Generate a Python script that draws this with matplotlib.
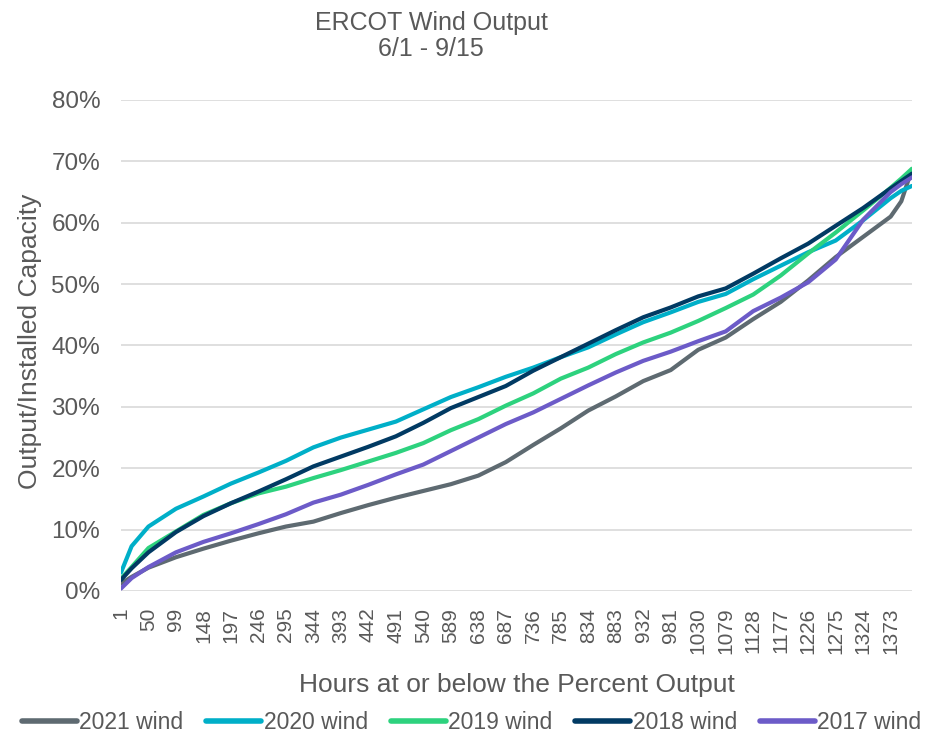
import matplotlib.pyplot as plt
from matplotlib.ticker import FuncFormatter

plt.rcParams['font.family'] = ['Liberation Sans', 'DejaVu Sans']

hours = [1, 20, 50, 99, 148, 197, 246, 295, 344, 393, 442, 491, 540, 589, 638,
         687, 736, 785, 834, 883, 932, 981, 1030, 1079, 1128, 1177, 1226, 1275,
         1324, 1373, 1392, 1411]

wind_2021 = [1.2, 2.3, 3.8, 5.5, 6.9, 8.2, 9.4, 10.5, 11.3, 12.7, 14.0, 15.2, 16.3,
             17.4, 18.8, 21.0, 23.8, 26.5, 29.4, 31.7, 34.2, 36.0, 39.3, 41.3, 44.3,
             47.1, 50.6, 54.4, 57.7, 61.0, 63.5, 68.7]
wind_2020 = [3.0, 7.3, 10.5, 13.4, 15.4, 17.5, 19.3, 21.2, 23.4, 25.0, 26.3, 27.6,
             29.6, 31.6, 33.2, 34.9, 36.4, 38.1, 39.7, 41.8, 43.8, 45.4, 47.1, 48.4,
             50.8, 53.0, 55.2, 57.1, 60.4, 64.0, 65.2, 66.0]
wind_2019 = [2.0, 3.9, 7.0, 9.7, 12.4, 14.3, 15.9, 17.0, 18.4, 19.7, 21.1, 22.5, 24.1,
             26.2, 28.0, 30.2, 32.2, 34.6, 36.4, 38.6, 40.5, 42.1, 44.0, 46.1, 48.3,
             51.4, 55.0, 58.4, 62.0, 65.7, 67.2, 68.8]
wind_2018 = [1.8, 3.7, 6.3, 9.6, 12.2, 14.3, 16.2, 18.2, 20.3, 21.9, 23.5, 25.2, 27.4,
             29.8, 31.6, 33.4, 35.9, 38.1, 40.3, 42.5, 44.6, 46.2, 48.0, 49.3, 51.7,
             54.2, 56.6, 59.5, 62.4, 65.6, 66.8, 68.0]
wind_2017 = [0.4, 2.1, 3.9, 6.3, 8.0, 9.4, 10.9, 12.5, 14.4, 15.7, 17.3, 19.0, 20.6,
             22.8, 25.0, 27.2, 29.1, 31.3, 33.5, 35.6, 37.5, 39.0, 40.7, 42.3, 45.6,
             47.8, 50.3, 54.0, 60.5, 65.0, 66.3, 67.4]

series = [
    ("2021 wind", wind_2021, "#5E6A71"),
    ("2020 wind", wind_2020, "#00AFC8"),
    ("2019 wind", wind_2019, "#2DD27E"),
    ("2018 wind", wind_2018, "#013A63"),
    ("2017 wind", wind_2017, "#6C5BC8"),
]
tick_hours = list(range(1, 1374, 49))

text_color = "#595959"

fig = plt.figure(figsize=(9.32, 7.38), dpi=100)
ax = fig.add_axes([0.1298, 0.1992, 0.8487, 0.6653])

for label, vals, color in series:
    ax.plot(hours, [v / 100 for v in vals], color=color, lw=3, label=label,
            solid_capstyle='round')

ax.set_xlim(1, 1411)
ax.set_ylim(0, 0.8)
ax.set_yticks([i / 10 for i in range(9)])
ax.yaxis.set_major_formatter(FuncFormatter(lambda v, p: f"{v * 100:.0f}%"))
ax.set_xticks(tick_hours)
ax.set_xticklabels([str(h) for h in tick_hours], rotation=90)
ax.grid(axis='y', color='#d9d9d9', lw=1.2)
ax.set_axisbelow(True)
for s in ax.spines.values():
    s.set_visible(False)
ax.tick_params(length=0, colors=text_color)
ax.tick_params(axis='y', labelsize=17.5, pad=15)
ax.tick_params(axis='x', labelsize=15, pad=12)

fig.text(0.5547, 0.072, "Hours at or below the Percent Output", ha='center',
         va='center', fontsize=19, color=text_color)
fig.text(0.032, 0.538, "Output/Installed Capacity", ha='center', va='center',
         rotation=90, fontsize=19, color=text_color)

fig.text(0.4625, 0.951, "ERCOT Wind Output\n6/1 - 9/15", ha='center', va='center',
         fontsize=18, color=text_color, linespacing=1.1)

fig.legend(loc='center', bbox_to_anchor=(0.506, 0.021), ncol=5, frameon=False,
           fontsize=16.5, labelcolor=text_color, handlelength=2.4, handletextpad=0.1,
           columnspacing=1.0)
for line in fig.legends[0].get_lines():
    line.set_linewidth(4)

fig.savefig("out.png", dpi=100)
